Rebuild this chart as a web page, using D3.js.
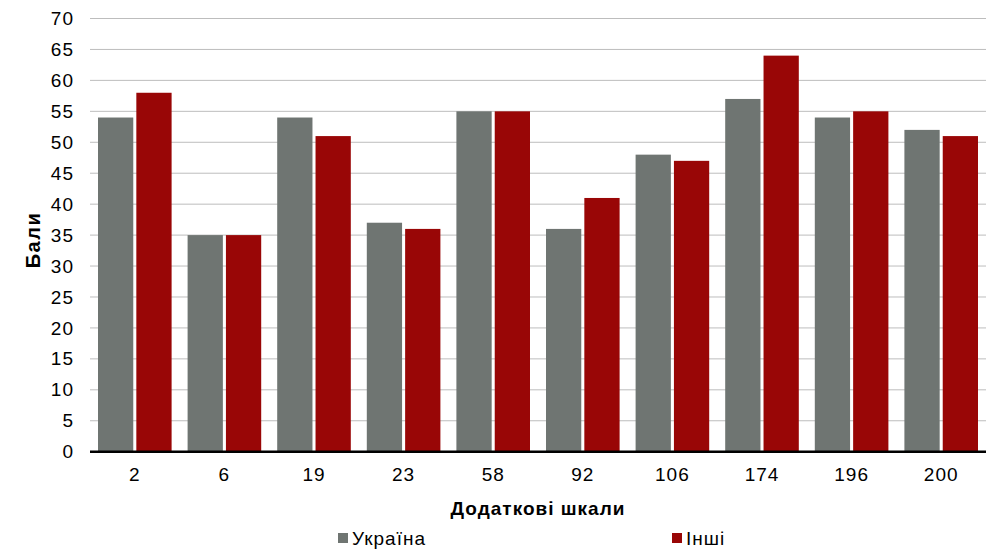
<!DOCTYPE html>
<html>
<head>
<meta charset="utf-8">
<script src="https://cdn.jsdelivr.net/npm/d3@7"></script>
<style>
  html, body { margin: 0; padding: 0; background: #fff; }
  svg { display: block; font-family: "Liberation Sans", Arial, sans-serif; }
</style>
</head>
<body>
<svg id="chart" width="991" height="550"></svg>
<script>
const categories = ["2", "6", "19", "23", "58", "92", "106", "174", "196", "200"];
const seriesNames = ["Україна", "Інші"];
const ukraine = [54, 35, 54, 37, 55, 36, 48, 57, 54, 52];
const others  = [58, 35, 51, 36, 55, 41, 47, 64, 55, 51];
const yTicks = [0, 5, 10, 15, 20, 25, 30, 35, 40, 45, 50, 55, 60, 65, 70];
const colors = ["#6f7572", "#990606"];

const svg = d3.select("#chart");
const plotLeft = 90, plotRight = 986, plotTop = 18.5, plotBottom = 451.7;
const fs = 19, ls = "1px";

const x0 = d3.scaleBand().domain(categories).range([plotLeft, plotRight]).padding(0);
const bw = x0.bandwidth();
const x1 = d3.scaleBand().domain(seriesNames).range([8, bw - 8]).paddingInner(0.08);
const y = d3.scaleLinear().domain([0, 70]).range([plotBottom, plotTop]);

// gridlines
svg.append("g").selectAll("line").data(yTicks.filter(d => d > 0)).join("line")
  .attr("x1", plotLeft).attr("x2", plotRight)
  .attr("y1", d => y(d)).attr("y2", d => y(d))
  .attr("stroke", "#bdbdbd").attr("stroke-width", 1);

// y tick labels via axis
const yAxis = svg.append("g").attr("transform", `translate(${plotLeft},0)`)
  .call(d3.axisLeft(y).tickValues(yTicks).tickSize(0).tickPadding(16));
yAxis.select(".domain").remove();
yAxis.selectAll("text").attr("font-size", fs).attr("fill", "#000").attr("letter-spacing", ls)
  .attr("font-family", "Liberation Sans, Arial, sans-serif");

// bars
const data = categories.map((c, i) => ({ cat: c, vals: [ukraine[i], others[i]] }));
const groups = svg.append("g").selectAll("g").data(data).join("g")
  .attr("transform", d => `translate(${x0(d.cat)},0)`);
groups.selectAll("rect").data(d => d.vals.map((v, j) => ({ s: seriesNames[j], v, j }))).join("rect")
  .attr("x", d => x1(d.s))
  .attr("width", x1.bandwidth())
  .attr("y", d => y(d.v))
  .attr("height", d => y(0) - y(d.v))
  .attr("fill", d => colors[d.j]);

// x axis
const xAxis = svg.append("g").attr("transform", `translate(0,${plotBottom})`)
  .call(d3.axisBottom(x0).tickSize(0).tickPadding(16));
xAxis.select(".domain").attr("stroke", "#000").attr("stroke-width", 2.5)
  .attr("d", `M${plotLeft},0H${plotRight}`);
xAxis.selectAll("text").attr("font-size", fs).attr("fill", "#000").attr("letter-spacing", ls)
  .attr("font-family", "Liberation Sans, Arial, sans-serif");

// axis titles
svg.append("text").attr("x", 538).attr("y", 515).attr("text-anchor", "middle")
  .attr("font-size", fs).attr("font-weight", "bold").attr("letter-spacing", ls).text("Додаткові шкали");
svg.append("text").attr("transform", "translate(40,240) rotate(-90)")
  .attr("text-anchor", "middle").attr("font-size", 20).attr("font-weight", "bold")
  .attr("letter-spacing", "1.5px").text("Бали");

// legend
const legendPos = [338, 672];
const lg = svg.append("g").selectAll("g").data(seriesNames).join("g")
  .attr("transform", (d, i) => `translate(${legendPos[i]},0)`);
lg.append("rect").attr("x", 0).attr("y", 533).attr("width", 10).attr("height", 10)
  .attr("fill", (d, i) => colors[i]);
lg.append("text").attr("x", 14).attr("y", 545).attr("font-size", fs).attr("letter-spacing", ls).text(d => d);
</script>
</body>
</html>
